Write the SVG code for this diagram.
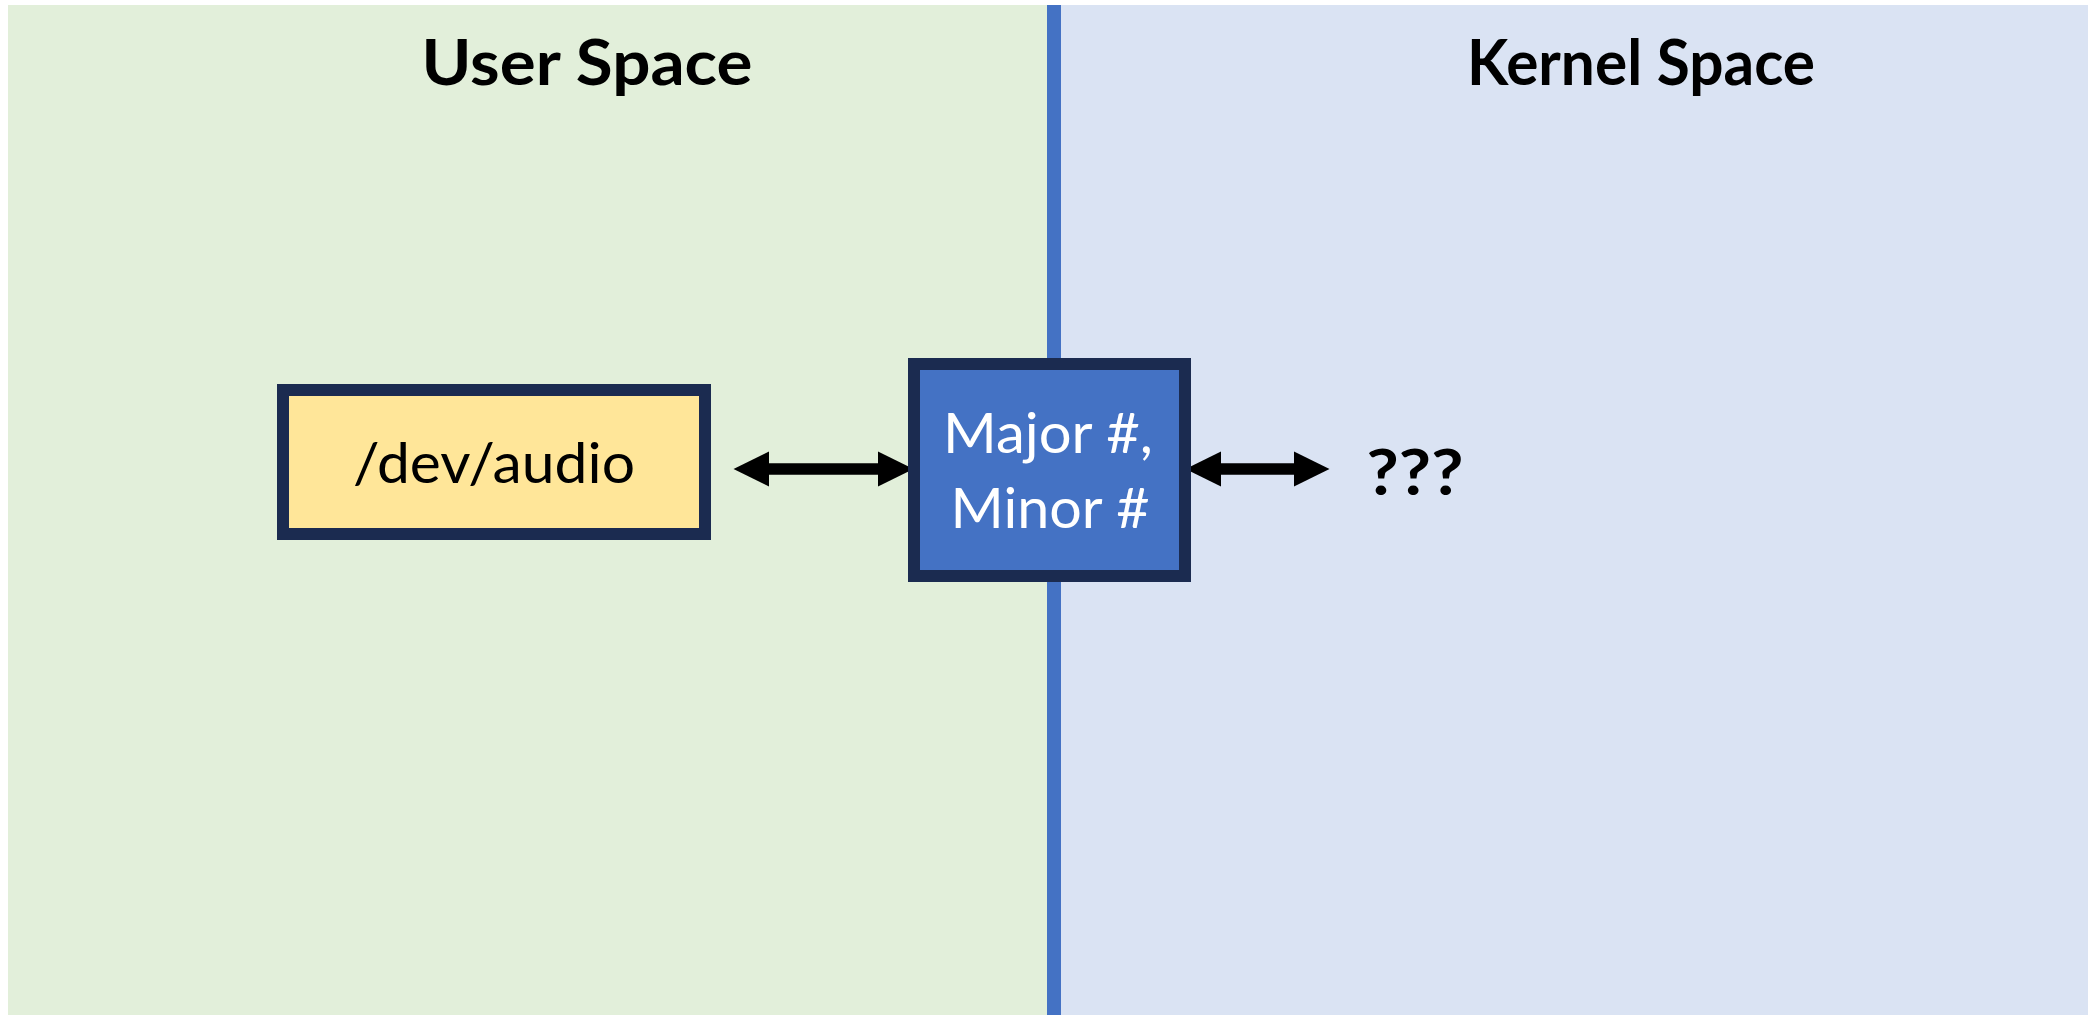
<svg xmlns="http://www.w3.org/2000/svg" width="2088" height="1015" viewBox="0 0 2088 1015">
  <style>
    .title { font-family: Lato, "Open Sans", sans-serif; font-weight: bold; font-size: 63px; fill: #000; text-anchor: middle; }
    .label { font-family: Lato, "Open Sans", sans-serif; font-size: 56px; text-anchor: middle; }
    .box { stroke: #1B2B50; stroke-width: 12; }
    .link { stroke: #000; stroke-width: 11.5; fill: none; marker-start: url(#head); marker-end: url(#head); }
  </style>
  <defs>
    <marker id="head" markerUnits="userSpaceOnUse" markerWidth="36" markerHeight="36" refX="0" refY="18" orient="auto-start-reverse" viewBox="0 0 36 36">
      <path d="M0,0.5 L35.5,18 L0,35.5 Z" fill="#000"/>
    </marker>
  </defs>

  <rect width="2088" height="1015" fill="#FFFFFF"/>

  <!-- Two address-space regions and the boundary between them -->
  <g id="user-space">
    <rect x="8" y="5" width="1040" height="1010" fill="#E2EFDA"/>
    <text class="title" x="587" y="85" textLength="331" lengthAdjust="spacingAndGlyphs">User Space</text>
  </g>
  <g id="kernel-space">
    <rect x="1061" y="5" width="1027" height="1010" fill="#DAE3F3"/>
    <text class="title" x="1641" y="85" textLength="348" lengthAdjust="spacingAndGlyphs">Kernel Space</text>
  </g>
  <rect id="boundary" x="1047" y="5" width="14" height="1010" fill="#4472C4"/>

  <!-- Connectors -->
  <g id="connectors">
    <line class="link" x1="769" y1="469" x2="878" y2="469"/>
    <line class="link" x1="1221" y1="469" x2="1294" y2="469"/>
  </g>

  <!-- Nodes -->
  <g id="dev-audio">
    <rect class="box" x="283" y="390" width="422" height="144" fill="#FFE699"/>
    <text class="label" x="494" y="483" fill="#000" textLength="282" lengthAdjust="spacingAndGlyphs">/dev/audio</text>
  </g>
  <g id="major-minor">
    <rect class="box" x="914" y="364" width="271" height="212" fill="#4472C4"/>
    <text class="label" x="1048" y="453" fill="#FFFFFF" textLength="210" lengthAdjust="spacingAndGlyphs">Major #,</text>
    <text class="label" x="1050" y="528" fill="#FFFFFF" textLength="199" lengthAdjust="spacingAndGlyphs">Minor #</text>
  </g>
  <g id="unknown">
    <text class="title" x="1415" y="495" font-size="66" textLength="97" lengthAdjust="spacingAndGlyphs">???</text>
  </g>
</svg>
